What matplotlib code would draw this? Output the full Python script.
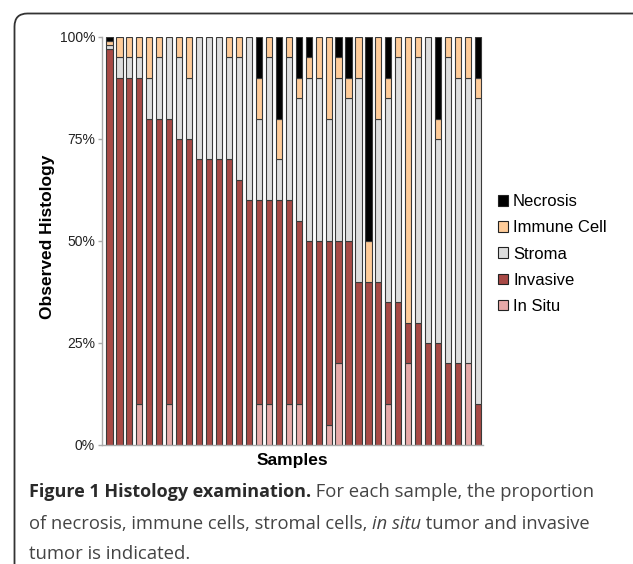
import numpy as np
import matplotlib
matplotlib.use("Agg")
import matplotlib.pyplot as plt
from matplotlib.patches import Patch, FancyBboxPatch

# sample composition, percent of each sample (bottom -> top)
in_situ = [0, 0, 0, 10, 0, 0, 10, 0, 0, 0, 0, 0, 0, 0, 0, 10, 10, 0, 10, 10,
           0, 0, 5, 20, 0, 0, 0, 0, 10, 0, 20, 0, 0, 0, 0, 0, 20, 0]
invasive = [97, 90, 90, 80, 80, 80, 70, 75, 75, 70, 70, 70, 70, 65, 60, 50, 50, 60, 50, 45,
            50, 50, 45, 30, 50, 40, 40, 40, 25, 35, 10, 30, 25, 25, 20, 20, 0, 10]
stroma = [1, 5, 5, 5, 10, 15, 20, 20, 15, 30, 30, 30, 25, 30, 40, 20, 35, 10, 35, 30,
          40, 40, 30, 40, 35, 50, 0, 40, 50, 60, 0, 65, 75, 50, 75, 70, 70, 75]
immune = [1, 5, 5, 5, 10, 5, 0, 5, 10, 0, 0, 0, 5, 5, 0, 10, 5, 10, 5, 5,
          5, 10, 20, 5, 5, 10, 10, 20, 5, 5, 70, 5, 0, 5, 5, 10, 10, 5]
necrosis = [1, 0, 0, 0, 0, 0, 0, 0, 0, 0, 0, 0, 0, 0, 0, 10, 0, 20, 0, 10,
            5, 0, 0, 5, 10, 0, 50, 0, 10, 0, 0, 0, 0, 20, 0, 0, 0, 10]

series = [("In Situ", in_situ, "#e6a9a8"),
          ("Invasive", invasive, "#a84945"),
          ("Stroma", stroma, "#dddddd"),
          ("Immune Cell", immune, "#ffcc99"),
          ("Necrosis", necrosis, "#000000")]
yticks = [0, 25, 50, 75, 100]
ytick_labels = ["0%", "25%", "50%", "75%", "100%"]

W, H = 633, 564
fig = plt.figure(figsize=(W / 100, H / 100), dpi=100)

# background layer in pixel units: frame + caption
bg = fig.add_axes([0, 0, 1, 1], zorder=-1)
bg.set_xlim(0, W)
bg.set_ylim(H, 0)
bg.axis("off")
bg.add_patch(FancyBboxPatch((14.5, 13.5), 660, 600,
                            boxstyle="round,pad=0,rounding_size=13",
                            fc="white", ec="#333333", lw=1.3))

ax = fig.add_axes([102 / W, 1 - 445 / H, 381 / W, 408 / H])
x = np.arange(len(invasive))
bottom = np.zeros(len(x))
for name, vals, col in series:
    vals = np.array(vals, dtype=float)
    keep = vals > 0
    ax.bar(x[keep], vals[keep], bottom=bottom[keep], width=0.62,
           color=col, edgecolor="#3a3a3a", linewidth=0.8)
    bottom += vals

ax.set_xlim(-0.75, len(x) - 0.5)
ax.set_ylim(0, 100)
ax.set_xticks([])
ax.set_yticks(yticks)
ax.set_yticklabels(ytick_labels, fontsize=10, family="Liberation Sans", color="#222222")
ax.tick_params(axis="y", length=3, width=1, color="#aaaaaa", pad=2)
for s in ["top", "right"]:
    ax.spines[s].set_visible(False)
for s in ["left", "bottom"]:
    ax.spines[s].set_color("#aaaaaa")
    ax.spines[s].set_linewidth(1)

ax.set_xlabel("Samples", fontsize=12.5, fontweight="bold", family="Liberation Sans", labelpad=6)
ax.set_ylabel("Observed Histology", fontsize=12.5, fontweight="bold", family="Liberation Sans")
ax.yaxis.set_label_coords(-0.124, 0.51)

handles = [Patch(facecolor=col, edgecolor="#222222", linewidth=0.8, label=name)
           for name, vals, col in series[::-1]]
ax.legend(handles=handles, loc="center left", bbox_to_anchor=(1.022, 0.468),
          frameon=False, prop={"family": "Liberation Sans", "size": 12},
          handlelength=0.6, handleheight=0.6, handletextpad=0.3, labelspacing=0.67,
          borderaxespad=0)

# caption, drawn piece by piece
fig.canvas.draw()
renderer = fig.canvas.get_renderer()
cap_font = "Open Sans"
lines = [
    [("Figure 1 Histology examination.", "bold", "normal", "#2a2a2a", 13.0),
     (" For each sample, the proportion", "normal", "normal", "#444444", 13.3)],
    [("of necrosis, immune cells, stromal cells, ", "normal", "normal", "#444444", 13.2),
     ("in situ", "normal", "italic", "#444444", 13.2),
     (" tumor and invasive", "normal", "normal", "#444444", 13.2)],
    [("tumor is indicated.", "normal", "normal", "#444444", 13.3)],
]
baselines = [497, 529, 559]
for parts, yb in zip(lines, baselines):
    xpos = 29
    for txt, wt, st, col, fs in parts:
        t = bg.text(xpos, yb, txt, fontsize=fs, family=cap_font, fontweight=wt,
                    style=st, color=col, va="baseline", ha="left")
        xpos += t.get_window_extent(renderer).width

fig.savefig("out.png", dpi=100)
